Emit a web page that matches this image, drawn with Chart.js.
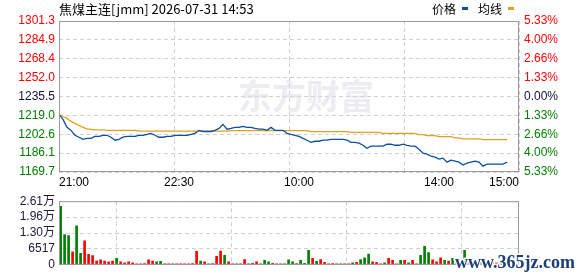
<!DOCTYPE html>
<html>
<head>
<meta charset="utf-8">
<script src="https://cdn.jsdelivr.net/npm/chart.js@4.4.1/dist/chart.umd.min.js"></script>
<style>
  body { margin: 0; background: #fff; width: 578px; height: 276px; overflow: hidden; position: relative; }
  #price { position: absolute; left: 0; top: 0; }
  #vol { position: absolute; left: 0; top: 190px; }
</style>
</head>
<body>
<canvas id="price" width="578" height="190"></canvas>
<canvas id="vol" width="578" height="86"></canvas>
<script>
// Session: 21:00-23:00, 9:00-10:15, 10:30-11:30, 13:30-15:00 -> 345 trading minutes
const TOTAL_MIN = 345;
const STEP = 3; // one sample every 3 minutes

const prevClose = 1235.5;

// Price (blue line), one value per 3-minute sample
const priceData = [
  1220.0, 1215.5, 1208.6, 1206.0, 1201.7, 1200.0, 1198.2, 1199.0, 1199.0, 1200.8,
  1200.8, 1201.7, 1201.7, 1200.0, 1197.4, 1198.2, 1200.0, 1200.8, 1200.8, 1200.8,
  1201.7, 1201.7, 1202.5, 1203.4, 1201.7, 1200.0, 1200.0, 1200.8, 1200.8, 1201.7,
  1201.7, 1201.7, 1201.7, 1202.5, 1203.4, 1206.0, 1205.0, 1205.0, 1205.0, 1206.0,
  1207.7, 1211.2, 1207.0, 1207.7, 1208.6, 1208.6, 1209.5, 1208.6, 1208.6, 1207.7,
  1207.0, 1207.0, 1206.0, 1208.6, 1206.0, 1206.0, 1206.0, 1203.4, 1202.5, 1201.7,
  1200.8, 1199.0, 1197.4, 1195.6, 1196.5, 1196.5, 1197.4, 1197.4, 1198.2, 1198.2,
  1198.2, 1198.2, 1197.4, 1195.6, 1195.6, 1194.8, 1193.0, 1190.4, 1192.2, 1192.2,
  1192.2, 1192.2, 1193.9, 1193.9, 1193.0, 1193.0, 1193.9, 1193.0, 1192.2, 1192.2,
  1189.6, 1186.1, 1185.2, 1183.5, 1182.6, 1180.9, 1181.8, 1178.3, 1180.0, 1179.2,
  1178.3, 1175.7, 1177.4, 1178.3, 1179.2, 1178.3, 1174.8, 1176.6, 1176.6, 1176.6,
  1176.6, 1176.6, 1178.3
];

// Average price (orange line)
const avgData = [
  1220.0, 1218.1, 1216.4, 1213.8, 1212.1, 1210.3, 1208.6, 1207.3, 1206.9, 1206.4,
  1206.4, 1206.4, 1206.0, 1206.0, 1206.0, 1206.0, 1206.0, 1206.0, 1206.0, 1206.0,
  1205.3, 1205.3, 1205.3, 1205.3, 1205.3, 1205.3, 1205.3, 1205.3, 1205.3, 1205.3,
  1205.3, 1205.3, 1205.3, 1205.3, 1205.3, 1205.3, 1205.3, 1205.3, 1205.3, 1205.3,
  1205.3, 1205.3, 1205.3, 1205.8, 1205.8, 1205.8, 1205.8, 1205.8, 1205.8, 1205.8,
  1205.8, 1205.8, 1205.8, 1205.8, 1205.8, 1205.8, 1205.8, 1205.8, 1205.8, 1205.8,
  1205.8, 1205.8, 1205.8, 1204.9, 1204.9, 1204.9, 1204.9, 1204.9, 1204.9, 1204.9,
  1204.9, 1204.9, 1204.9, 1204.2, 1204.2, 1204.2, 1204.2, 1204.2, 1204.2, 1204.2,
  1204.2, 1203.4, 1203.4, 1203.4, 1203.4, 1203.4, 1203.4, 1203.4, 1203.4, 1203.4,
  1202.3, 1202.3, 1201.4, 1201.4, 1201.4, 1200.6, 1200.6, 1200.6, 1200.6, 1199.4,
  1199.4, 1198.5, 1198.5, 1198.5, 1198.5, 1198.5, 1198.0, 1198.0, 1198.0, 1198.0,
  1198.0, 1198.0, 1198.0
];

// Volume per sample and direction (1 = up/red, 0 = down/green)
const volData = [
  24000, 12400, 12000, 5300, 16000, 4700, 9800, 4300, 3800, 1500,
  2000, 1500, 1200, 1500, 2700, 1200, 800, 1200, 800, 400,
  400, 500, 2000, 1500, 1200, 1400, 400, 400, 400, 400,
  400, 400, 400, 500, 5500, 1500, 1200, 400, 500, 3500,
  5600, 3900, 1200, 400, 400, 400, 2100, 400, 600, 1200,
  400, 1800, 1200, 600, 400, 400, 400, 2000, 1200, 500,
  1800, 600, 5900, 2700, 1400, 2100, 1000, 400, 500, 400,
  400, 400, 400, 800, 1000, 2100, 2900, 4400, 1200, 1000,
  400, 800, 2700, 1800, 400, 1800, 1800, 800, 1800, 400,
  3900, 7600, 5000, 2000, 1200, 2900, 1800, 1500, 2700, 1800,
  400, 5900, 1200, 1200, 1500, 2000, 1000, 800, 1000, 800,
  600, 800, 600
];
const volUp = [
  0, 0, 0, 1, 0, 0, 1, 1, 1, 1,
  1, 1, 1, 1, 0, 1, 1, 1, 1, 1,
  1, 1, 1, 1, 0, 0, 1, 1, 0, 1,
  1, 1, 1, 1, 1, 0, 1, 0, 1, 1,
  1, 0, 1, 1, 0, 1, 1, 1, 1, 1,
  0, 0, 0, 1, 1, 0, 1, 0, 0, 1,
  0, 0, 0, 1, 0, 1, 1, 1, 1, 0,
  1, 1, 1, 0, 1, 0, 0, 0, 1, 1,
  1, 0, 1, 1, 1, 0, 1, 0, 1, 1,
  0, 0, 0, 1, 1, 1, 0, 1, 0, 1,
  1, 0, 1, 1, 1, 0, 1, 1, 1, 1,
  1, 1, 1
];

// Axis ticks
const priceTicks = [1301.3, 1284.9, 1268.4, 1252.0, 1235.5, 1219.0, 1202.6, 1186.1, 1169.7];
const priceLabels = ['1301.3', '1284.9', '1268.4', '1252.0', '1235.5', '1219.0', '1202.6', '1186.1', '1169.7'];
const pctLabels = ['5.33%', '4.00%', '2.66%', '1.33%', '0.00%', '1.33%', '2.66%', '4.00%', '5.33%'];
const volTicks = [26068, 19551, 13034, 6517, 0];
const volLabels = ['2.61万', '1.96万', '1.30万', '6517', '0'];
const timeTicks = [0, 90, 180, 285, 345];
const timeLabels = ['21:00', '22:30', '10:00', '14:00', '15:00'];

const title = '焦煤主连[jmm] 2026-07-31 14:53';

const RED = '#ff0000', GREEN = '#008000', NAVY = '#101040';
const BLUE = '#0a4fa0', ORANGE = '#e0a21a';
const FONT = { family: '"Liberation Sans", Arial, sans-serif', size: 12 };
const GRID = '#d0d0d0';

function tickColor(i) {
  return i < 4 ? RED : (i === 4 ? NAVY : GREEN);
}
function fixWidth(w) { return s => { s.width = w; }; }
function fixHeight(h) { return s => { s.height = h; }; }

const quarterTicks = [0, 1, 2, 3, 4].map(k => ({ value: TOTAL_MIN * k / 4 }));

function xAxes() {
  return {
    x: {
      type: 'linear', min: 0, max: TOTAL_MIN, offset: false,
      grid: { display: false, drawTicks: false }, border: { display: false },
      afterBuildTicks: s => { s.ticks = timeTicks.map(v => ({ value: v })); },
      ticks: {
        autoSkip: false, maxRotation: 0, align: 'inner', padding: 3,
        color: '#000', font: FONT,
        callback: (v, i) => timeLabels[i]
      },
      afterFit: fixHeight(18)
    },
    xg: {
      type: 'linear', min: 0, max: TOTAL_MIN, position: 'bottom', offset: false,
      grid: { color: GRID, drawTicks: false }, border: { display: false, dash: [4, 3] },
      afterBuildTicks: s => { s.ticks = quarterTicks.slice(); },
      ticks: { display: false },
      afterFit: fixHeight(0)
    }
  };
}

const framePlugin = {
  id: 'frame',
  afterDraw(chart) {
    const { ctx, chartArea: a } = chart;
    ctx.save();
    ctx.strokeStyle = '#999';
    ctx.lineWidth = 1;
    ctx.strokeRect(a.left + 0.5, a.top + 0.5, a.right - a.left - 1, a.bottom - a.top - 1);
    ctx.restore();
  }
};

const headerPlugin = {
  id: 'header',
  beforeDatasetsDraw(chart) {
    const { ctx } = chart;
    ctx.save();
    ctx.fillStyle = 'rgba(220,220,228,0.5)';
    ctx.font = 'bold 34px "Noto Sans CJK SC", sans-serif';
    ctx.textBaseline = 'middle';
    ctx.fillText('东方财富', 238, 96);
    ctx.restore();
  },
  afterDraw(chart) {
    const { ctx } = chart;
    ctx.save();
    ctx.textBaseline = 'middle';
    ctx.fillStyle = '#000';
    ctx.font = '13px "Noto Sans CJK SC", sans-serif';
    ctx.fillText(title, 59, 9);
    ctx.font = '12px "Noto Sans CJK SC", sans-serif';
    ctx.fillText('价格', 432, 9);
    ctx.fillText('均线', 478, 9);
    ctx.fillStyle = BLUE;
    ctx.fillRect(462, 7, 6, 3);
    ctx.fillStyle = ORANGE;
    ctx.fillRect(508, 7, 6, 3);
    ctx.restore();
  }
};

const samples = priceData.map((_, i) => i * STEP);

new Chart(document.getElementById('price'), {
  type: 'line',
  data: {
    datasets: [
      {
        label: '价格',
        data: samples.map((m, i) => ({ x: m, y: priceData[i] })),
        borderColor: BLUE, borderWidth: 1.3, pointRadius: 0, tension: 0
      },
      {
        label: '均线',
        data: samples.map((m, i) => ({ x: m, y: avgData[i] })),
        borderColor: ORANGE, borderWidth: 1.3, pointRadius: 0, tension: 0
      }
    ]
  },
  options: {
    responsive: false, animation: false, devicePixelRatio: 1,
    layout: { padding: { top: 21 } },
    plugins: { legend: { display: false }, tooltip: { enabled: false } },
    scales: Object.assign(xAxes(), {
      y: {
        position: 'left', min: priceTicks[8], max: priceTicks[0],
        grid: { color: GRID, drawTicks: false }, border: { display: false, dash: [4, 3] },
        afterBuildTicks: s => { s.ticks = priceTicks.map(v => ({ value: v })); },
        ticks: {
          autoSkip: false, padding: 4, font: FONT,
          color: c => tickColor(c.index),
          callback: (v, i) => priceLabels[i]
        },
        afterFit: fixWidth(59)
      },
      y2: {
        position: 'right', min: priceTicks[8], max: priceTicks[0],
        grid: { display: false, drawTicks: false }, border: { display: false },
        afterBuildTicks: s => { s.ticks = priceTicks.map(v => ({ value: v })); },
        ticks: {
          autoSkip: false, padding: 5, font: FONT,
          color: c => tickColor(c.index),
          callback: (v, i) => pctLabels[i]
        },
        afterFit: fixWidth(59)
      }
    })
  },
  plugins: [headerPlugin, framePlugin]
});

const volMarkPlugin = {
  id: 'volmark',
  afterDraw(chart) {
    const { ctx } = chart;
    ctx.save();
    ctx.font = 'bold 18px "Liberation Serif", "DejaVu Serif", serif';
    ctx.textBaseline = 'alphabetic';
    ctx.lineWidth = 3;
    ctx.strokeStyle = 'rgba(255,255,255,0.9)';
    ctx.strokeText('www.365jz.com', 455, 78);
    ctx.fillStyle = '#1d3f78';
    ctx.fillText('www.365jz.com', 455, 78);
    ctx.restore();
  }
};

const volScales = xAxes();
volScales.x.display = false;
volScales.x.afterFit = fixHeight(0);

// each bar sits in the middle of its 3-minute bucket
new Chart(document.getElementById('vol'), {
  type: 'bar',
  data: {
    datasets: [{
      data: samples.map((m, i) => ({ x: m + 1.2, y: volData[i] })),
      backgroundColor: volUp.map(u => u ? RED : GREEN),
      barThickness: 2
    }]
  },
  options: {
    responsive: false, animation: false, devicePixelRatio: 1,
    layout: { padding: { top: 6, bottom: 6, right: 59 } },
    plugins: { legend: { display: false }, tooltip: { enabled: false } },
    scales: Object.assign(volScales, {
      y: {
        position: 'left', min: 0, max: volTicks[0],
        grid: { color: GRID, drawTicks: false }, border: { display: false, dash: [4, 3] },
        afterBuildTicks: s => { s.ticks = volTicks.map(v => ({ value: v })); },
        ticks: {
          autoSkip: false, padding: 4, color: '#1a1a3a',
          font: { family: '"Liberation Sans", "Noto Sans CJK SC", sans-serif', size: 12 },
          callback: (v, i) => volLabels[i]
        },
        afterFit: fixWidth(59)
      }
    })
  },
  plugins: [framePlugin, volMarkPlugin]
});
</script>
</body>
</html>
